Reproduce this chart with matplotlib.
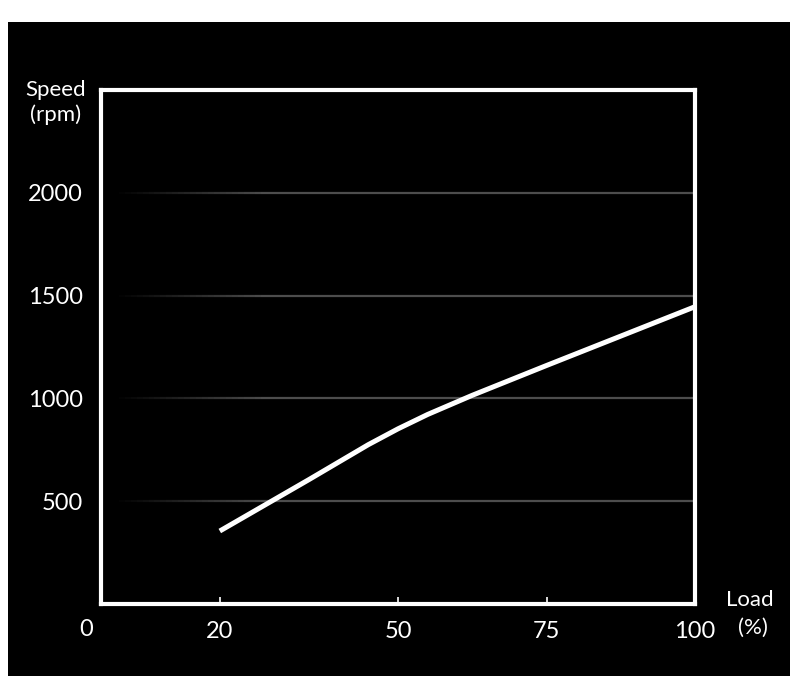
import numpy as np
import matplotlib.pyplot as plt
from matplotlib.patches import Rectangle
from matplotlib.collections import LineCollection

# load (%) vs speed (rpm)
load = [20, 35, 45, 50, 55, 62.5, 75, 100]
speed = [355, 605, 775, 852, 922, 1015, 1160, 1446]

x_ticks = [20, 50, 75, 100]
y_ticks = [500, 1000, 1500, 2000]

plt.rcParams['font.family'] = ['Lato', 'DejaVu Sans']

fig = plt.figure(figsize=(8.01, 7.0), dpi=100, facecolor='white')
# black panel behind the chart
fig.patches.append(Rectangle((8 / 801, 1 - 676 / 700), 782 / 801, 654 / 700,
                             transform=fig.transFigure, facecolor='black',
                             edgecolor='none', zorder=-10))

ax = fig.add_axes([101 / 801, 1 - 604 / 700, 594 / 801, 514 / 700])
ax.set_facecolor('black')
ax.set_xlim(0, 100)
ax.set_ylim(0, 2500)

for s in ax.spines.values():
    s.set_color('white')
    s.set_linewidth(3)

# faint grid lines that fade in from the left
for yv in y_ticks:
    xs = np.linspace(0, 100, 101)
    segs = [[(xs[i], yv), (xs[i + 1], yv)] for i in range(len(xs) - 1)]
    alphas = np.clip((xs[:-1] - 2) / 25, 0, 1)
    cols = [(0.3, 0.3, 0.3, a) for a in alphas]
    ax.add_collection(LineCollection(segs, colors=cols, linewidths=1.6, zorder=1))

ax.plot(load, speed, color='white', linewidth=3.6, solid_capstyle='butt',
        solid_joinstyle='round', zorder=3)

ax.set_xticks(x_ticks)
ax.set_xticklabels([str(v) for v in x_ticks])
ax.set_yticks(y_ticks)
ax.set_yticklabels([str(v) for v in y_ticks])
ax.tick_params(axis='x', direction='in', length=5, width=1.2, color='white',
               labelcolor='white', labelsize=17, pad=12)
ax.tick_params(axis='y', length=0, labelcolor='white', labelsize=17, pad=13)

# extra labels around the frame
fig.text(86 / 801, 1 - 630 / 700, '0', color='white', fontsize=17,
         ha='center', va='center')
fig.text(56 / 801, 1 - 90 / 700, 'Speed', color='white', fontsize=16,
         ha='center', va='center')
fig.text(56 / 801, 1 - 115 / 700, '(rpm)', color='white', fontsize=16,
         ha='center', va='center')
fig.text(750 / 801, 1 - 600 / 700, 'Load', color='white', fontsize=16,
         ha='center', va='center')
fig.text(753 / 801, 1 - 628 / 700, '(%)', color='white', fontsize=16,
         ha='center', va='center')

fig.savefig('out.png', dpi=100, facecolor='white')
